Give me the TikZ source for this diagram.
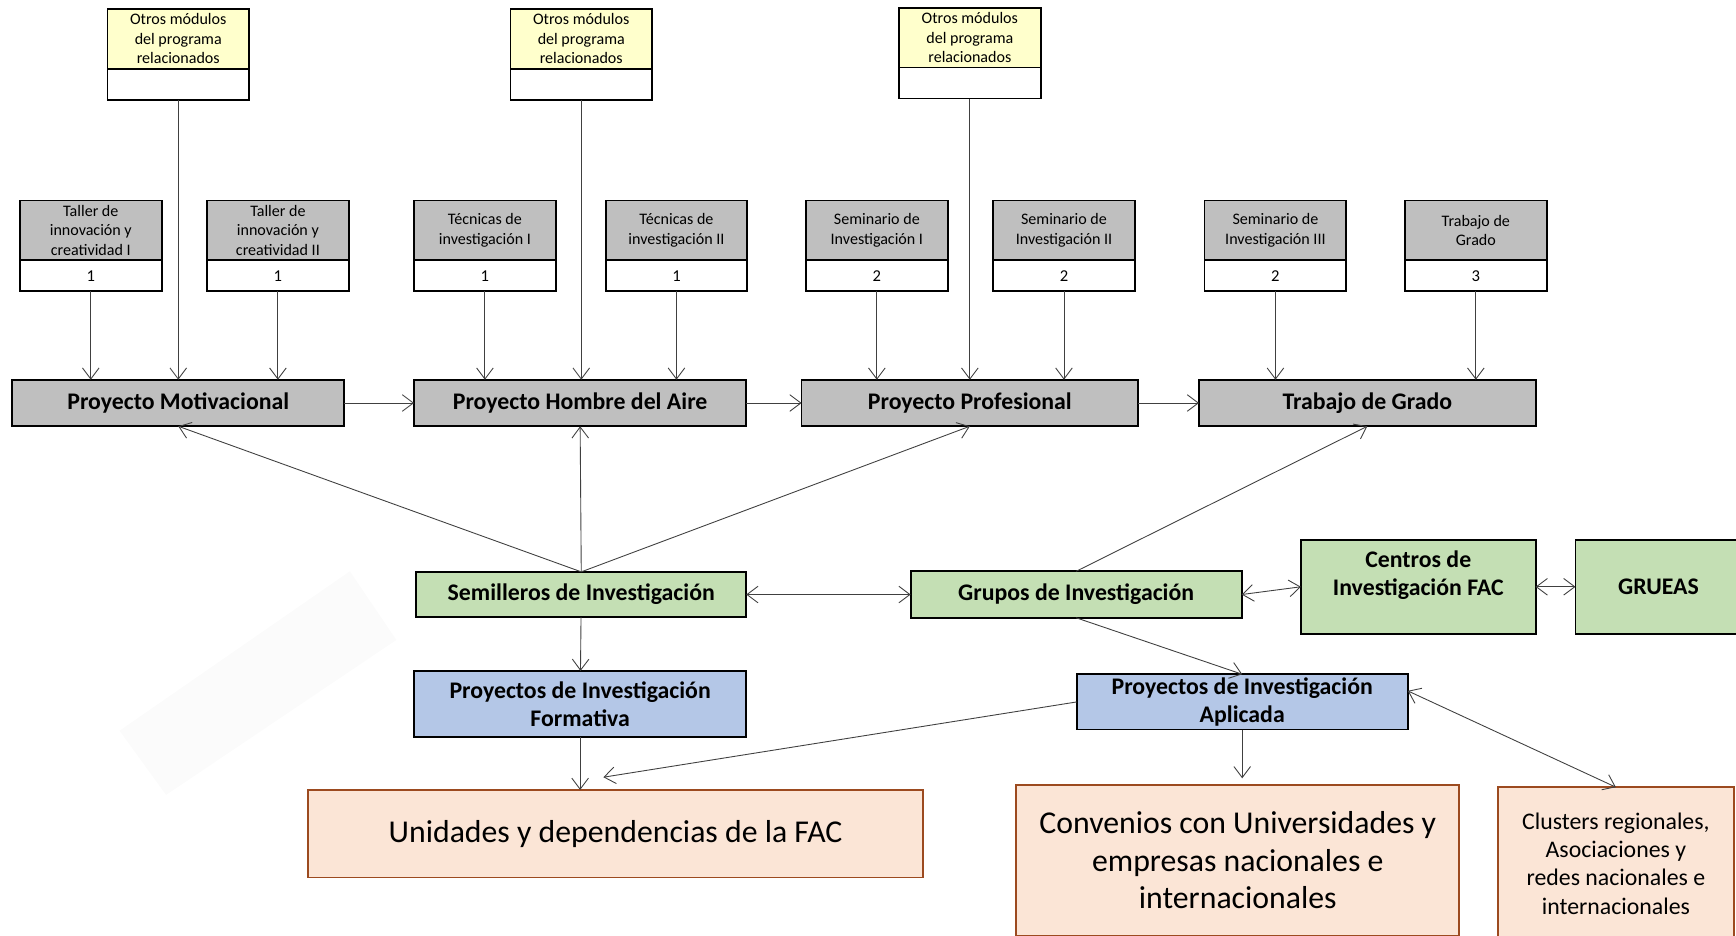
\documentclass[tikz,border=0pt]{standalone}
\usepackage{fontspec}
\setmainfont{Carlito}
\usetikzlibrary{positioning,arrows.meta}

\definecolor{grisbox}{HTML}{BFBFBF}
\definecolor{amarillo}{HTML}{FFFFCC}
\definecolor{verde}{HTML}{C4DFB4}
\definecolor{azul}{HTML}{B4C7E7}
\definecolor{salmon}{HTML}{FBE5D6}
\definecolor{cafe}{HTML}{9C4A1F}
\definecolor{linea}{HTML}{404040}

\tikzset{
  modulo/.style={draw=black, line width=1.6pt, fill=grisbox, minimum width=128pt, minimum height=54pt, inner sep=0pt, outer sep=0pt, align=center, font=\fontsize{14.5}{17.5}\selectfont},
  otros/.style={modulo, fill=amarillo},
  credito/.style={draw=black, line width=1.6pt, fill=white, minimum width=128pt, minimum height=28pt, inner sep=0pt, outer sep=0pt, font=\fontsize{15}{17}\selectfont},
  proyecto/.style={draw=black, line width=1.6pt, fill=grisbox, minimum height=42pt, inner sep=0pt, outer sep=0pt, align=center, font=\fontsize{21.5}{25}\selectfont\bfseries},
  grupo/.style={proyecto, fill=verde},
  pinv/.style={proyecto, fill=azul},
  aliado/.style={draw=cafe, line width=1.6pt, fill=salmon, inner sep=0pt, outer sep=0pt, align=center},
  flecha/.style={draw=linea, line width=0.8pt, ->},
  dobleflecha/.style={draw=linea, line width=0.8pt, <->}
}

\begin{document}
\begin{tikzpicture}[x=1pt, y=-1pt, >={Straight Barb[length=10pt,width=15pt]}]
	\useasboundingbox (0,0) rectangle (1568,845);
	
	% marca de fondo
	\fill[black!1.5] (108,660) -- (316,516) -- (358,578) -- (150,718) -- cycle;
	
	% otros modulos
	\node[otros] (otr1) at (161,35) {Otros módulos\\del programa\\relacionados};
	\node[credito, below=0pt of otr1] (otr1n) {};
	\node[otros] (otr2) at (525,35) {Otros módulos\\del programa\\relacionados};
	\node[credito, below=0pt of otr2] (otr2n) {};
	\node[otros] (otr3) at (876,34) {Otros módulos\\del programa\\relacionados};
	\node[credito, below=0pt of otr3] (otr3n) {};
	
	% modulos con creditos
	\node[modulo] (tal1) at (82,208) {Taller de\\innovación y\\creatividad I};
	\node[credito, below=0pt of tal1] (tal1n) {1};
	\node[modulo] (tal2) at (251,208) {Taller de\\innovación y\\creatividad II};
	\node[credito, below=0pt of tal2] (tal2n) {1};
	\node[modulo] (tec1) at (438,208) {Técnicas de\\investigación I};
	\node[credito, below=0pt of tec1] (tec1n) {1};
	\node[modulo] (tec2) at (611,208) {Técnicas de\\investigación II};
	\node[credito, below=0pt of tec2] (tec2n) {1};
	\node[modulo] (sem1) at (792,208) {Seminario de\\Investigación I};
	\node[credito, below=0pt of sem1] (sem1n) {2};
	\node[modulo] (sem2) at (961,208) {Seminario de\\Investigación II};
	\node[credito, below=0pt of sem2] (sem2n) {2};
	\node[modulo] (sem3) at (1152,208) {Seminario de\\Investigación III};
	\node[credito, below=0pt of sem3] (sem3n) {2};
	\node[modulo] (trab) at (1333,208) {Trabajo de\\Grado};
	\node[credito, below=0pt of trab] (trabn) {3};
	
	% proyectos
	\node[proyecto, minimum width=300pt] (pm) at (161,364) {Proyecto Motivacional};
	\node[proyecto, minimum width=300pt] (pha) at (524,364) {Proyecto Hombre del Aire};
	\node[proyecto, minimum width=304pt] (pp) at (876,364) {Proyecto Profesional};
	\node[proyecto, minimum width=304pt] (tg) at (1235,364) {Trabajo de Grado};
	
	% investigacion
	\node[grupo, minimum width=298pt, minimum height=41pt] (semi) at (525,537) {Semilleros de Investigación};
	\node[grupo, minimum width=299pt] (grup) at (972,537) {Grupos de Investigación};
	\node[grupo, minimum width=212pt, minimum height=85pt] (cent) at (1281,530) {Centros de\\Investigación FAC\\\mbox{}};
	\node[grupo, minimum width=150pt, minimum height=85pt] (grue) at (1498,530) {GRUEAS};
	\node[pinv, minimum width=300pt, minimum height=60pt] (pif) at (524,636) {Proyectos de Investigación\\Formativa};
	\node[pinv, minimum width=299pt, minimum height=50pt] (pia) at (1122,634) {Proyectos de Investigación\\Aplicada};
	
	% aliados
	\node[aliado, minimum width=556pt, minimum height=79pt, font=\fontsize{28.7}{34}\selectfont] (uni) at (556,753) {Unidades y dependencias de la FAC};
	\node[aliado, minimum width=400pt, minimum height=136pt, font=\fontsize{28.7}{34}\selectfont] (conv) at (1118,777) {Convenios con Universidades y\\empresas nacionales e\\internacionales};
	\node[aliado, minimum width=213pt, minimum height=138pt, font=\fontsize{21.5}{25.5}\selectfont] (clus) at (1459.5,780) {Clusters regionales,\\Asociaciones y\\redes nacionales e\\internacionales};
	
	\coordinate (unifin) at (545,702);
	\coordinate (convfin) at (1122,703);
	
	% flechas de modulos
	\draw[flecha] (tal1n.south) -- (tal1n.south |- pm.north);
	\draw[flecha] (otr1n.south) -- (otr1n.south |- pm.north);
	\draw[flecha] (tal2n.south) -- (tal2n.south |- pm.north);
	\draw[flecha] (tec1n.south) -- (tec1n.south |- pha.north);
	\draw[flecha] (otr2n.south) -- (otr2n.south |- pha.north);
	\draw[flecha] (tec2n.south) -- (tec2n.south |- pha.north);
	\draw[flecha] (sem1n.south) -- (sem1n.south |- pp.north);
	\draw[flecha] (otr3n.south) -- (otr3n.south |- pp.north);
	\draw[flecha] (sem2n.south) -- (sem2n.south |- pp.north);
	\draw[flecha] (sem3n.south) -- (sem3n.south |- tg.north);
	\draw[flecha] (trabn.south) -- (trabn.south |- tg.north);
	
	\draw[flecha] (pm) -- (pha);
	\draw[flecha] (pha) -- (pp);
	\draw[flecha] (pp) -- (tg);
	
	\draw[flecha] (semi.north) -- (pm.south);
	\draw[flecha] (semi.north) -- (pha.south);
	\draw[flecha] (semi.north) -- (pp.south);
	\draw[flecha] (grup.north) -- (tg.south);
	
	\draw[dobleflecha] (semi) -- (grup);
	\draw[dobleflecha] (grup.east) -- (cent.west);
	\draw[dobleflecha] (cent) -- (grue);
	
	\draw[flecha] (semi) -- (pif);
	\draw[flecha] (grup.south) -- (pia.north);
	\draw[flecha] (pif.south) -- (pif.south |- uni.north);
	\draw[flecha] (pia.west) -- (unifin);
	\draw[flecha] (pia.south) -- (convfin);
	\draw[dobleflecha] ([yshift=10pt]pia.east) -- (clus.north);
\end{tikzpicture}
\end{document}
